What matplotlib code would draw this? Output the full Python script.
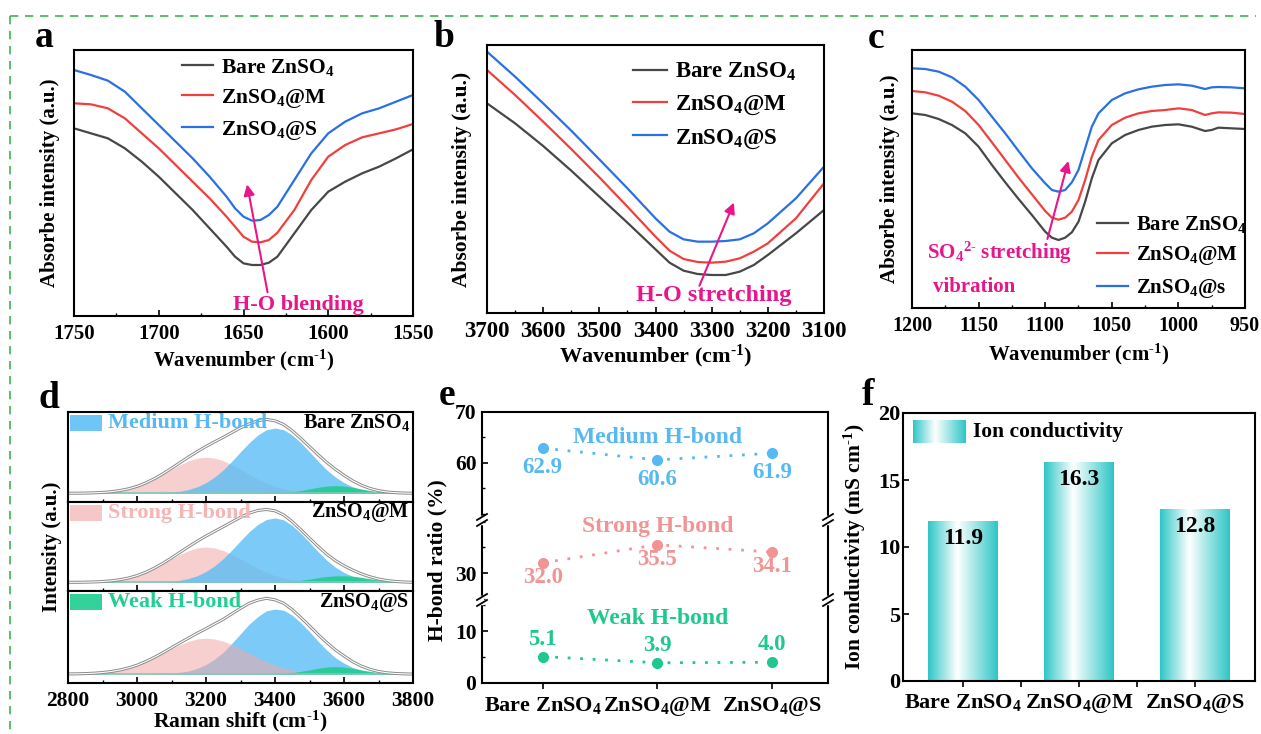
import numpy as np
import matplotlib
matplotlib.use("Agg")
import matplotlib.pyplot as plt
from matplotlib.colors import LinearSegmentedColormap
from matplotlib.ticker import MultipleLocator, FixedLocator
from matplotlib.lines import Line2D
from matplotlib.patches import Rectangle

plt.rcParams['font.family'] = 'Liberation Serif'
plt.rcParams['font.weight'] = 'bold'
plt.rcParams['axes.labelweight'] = 'bold'
plt.rcParams['mathtext.fontset'] = 'custom'
plt.rcParams['mathtext.rm'] = 'Liberation Serif:bold'
plt.rcParams['mathtext.bf'] = 'Liberation Serif:bold'
plt.rcParams['mathtext.it'] = 'Liberation Serif:bold'
plt.rcParams['mathtext.default'] = 'bf'
plt.rcParams['axes.linewidth'] = 1.5

HY = '\u2010'  # short hyphen for superscripts

# ---------------- data ----------------
samples = ['Bare ZnSO$_4$', 'ZnSO$_4$@M', 'ZnSO$_4$@S']
samples_c = ['Bare ZnSO$_4$', 'ZnSO$_4$@M', 'ZnSO$_4$@s']

# (a) FTIR H-O bending region
a_wn = [1750, 1740, 1730, 1720, 1710, 1700, 1690, 1680, 1670, 1660, 1655, 1650,
        1645, 1640, 1635, 1630, 1620, 1610, 1600, 1590, 1580, 1570, 1560, 1550]
a_bare = [56.3, 54.8, 53.3, 50.3, 46.3, 41.8, 36.8, 31.8, 26.3, 20.8, 17.8, 15.8,
          15.3, 15.3, 16.0, 17.8, 24.8, 31.8, 37.3, 40.3, 42.8, 44.8, 47.3, 50.0]
a_m = [63.8, 63.5, 62.3, 59.3, 54.8, 50.3, 45.3, 40.3, 35.3, 29.8, 26.8, 23.8,
       22.3, 22.1, 22.8, 25.0, 31.8, 40.8, 47.8, 51.3, 53.6, 54.8, 56.0, 57.6]
a_s = [73.8, 72.3, 70.6, 67.3, 62.3, 57.3, 52.3, 47.3, 41.8, 35.8, 32.3, 29.8,
       28.6, 28.8, 30.3, 32.8, 40.8, 48.8, 54.8, 58.3, 60.8, 62.3, 64.3, 66.3]

# (b) FTIR H-O stretching region
b_wn = [3700, 3650, 3600, 3550, 3500, 3450, 3400, 3375, 3350, 3325, 3300, 3275, 3250, 3225, 3200, 3150, 3100]
b_bare = [62.9, 56.9, 50.1, 42.7, 34.9, 27.1, 19.1, 15.1, 12.7, 11.7, 11.4, 11.4, 12.4, 14.4, 17.4, 23.9, 30.9]
b_m = [72.9, 65.4, 57.4, 49.2, 40.7, 31.9, 22.9, 18.7, 16.2, 15.3, 15.1, 15.4, 16.4, 18.4, 20.9, 28.4, 38.9]
b_s = [78.4, 70.9, 62.9, 54.7, 46.1, 37.4, 28.4, 24.4, 22.1, 21.4, 21.4, 21.6, 22.1, 23.9, 26.9, 34.4, 43.9]

# (c) FTIR SO4 stretching region
c_wn = [1200, 1190, 1180, 1170, 1160, 1150, 1140, 1130, 1120, 1110, 1100, 1095, 1090, 1085, 1080, 1075,
        1070, 1065, 1060, 1050, 1040, 1030, 1020, 1010, 1000, 990, 980, 975, 970, 960, 950]
c_bare = [58.4, 57.9, 56.7, 54.9, 52.4, 48.4, 42.9, 37.7, 32.7, 27.9, 22.9, 21.1, 20.4, 21.1, 22.7, 25.9,
          31.9, 38.9, 44.4, 49.4, 51.9, 53.4, 54.4, 54.9, 55.1, 54.4, 53.1, 53.4, 54.1, 53.9, 53.7]
c_m = [65.1, 64.7, 63.7, 61.9, 59.1, 54.9, 49.7, 44.4, 39.1, 34.1, 29.1, 27.1, 26.5, 27.1, 28.9, 32.4,
       38.4, 45.4, 50.4, 54.9, 57.1, 58.4, 59.1, 59.4, 59.9, 59.4, 57.9, 58.4, 58.7, 58.6, 58.2]
c_s = [71.9, 71.7, 70.9, 69.2, 66.4, 62.4, 57.4, 52.4, 47.1, 41.9, 37.4, 35.4, 34.9, 35.4, 37.7, 41.4,
       47.9, 54.4, 58.4, 62.4, 64.4, 65.6, 66.4, 66.9, 67.1, 66.7, 65.7, 66.2, 66.3, 66.2, 65.9]

# (d) Raman fitted components, 2800-3800 cm-1 every 25 cm-1
d_shift = [2800, 2825, 2850, 2875, 2900, 2925, 2950, 2975, 3000, 3025, 3050, 3075, 3100, 3125,
           3150, 3175, 3200, 3225, 3250, 3275, 3300, 3325, 3350, 3375, 3400, 3425, 3450, 3475,
           3500, 3525, 3550, 3575, 3600, 3625, 3650, 3675, 3700, 3725, 3750, 3775, 3800]
d_medium = [
    [0, 0, 0, 0, 0, 0, 0, 0, 0, 0.3, 0.8, 1.6, 3.3, 6.3, 11.5, 19.6, 32, 48.6, 70, 96, 124, 151, 174, 190,
     195, 190, 174, 151, 124, 96, 70, 48.6, 32, 19.6, 11.5, 6.3, 3.3, 1.6, 0.8, 0.3, 0],
    [0, 0, 0, 0, 0, 0, 0, 0, 0, 0.3, 0.8, 1.6, 3.3, 6.5, 12, 20.5, 33, 50, 72, 98, 126, 153, 175, 190,
     195, 189, 172, 148, 121, 93, 67, 46, 30, 18.5, 10.5, 5.8, 3.0, 1.5, 0.7, 0.3, 0],
    [0, 0, 0, 0, 0, 0, 0, 0, 0, 0.3, 0.8, 1.5, 3.0, 5.5, 9.5, 17, 28, 44, 64, 90, 118, 146, 168, 185,
     190, 187, 172, 150, 124, 96, 70, 48, 32, 19.5, 11.2, 6.1, 3.2, 1.6, 0.8, 0.3, 0],
]
d_strong = [
    [0.2, 0.3, 0.7, 1.4, 2.6, 4.7, 8.2, 13.3, 20.7, 30.5, 42.7, 56.7, 71.5, 85.6, 97.4, 105.3, 108,
     105.3, 97.4, 85.6, 71.5, 56.7, 42.7, 30.5, 20.7, 13.3, 8.2, 4.7, 2.6, 1.4, 0.7, 0.3, 0.2,
     0, 0, 0, 0, 0, 0, 0, 0],
    [0.2, 0.3, 0.7, 1.4, 2.6, 4.7, 8.1, 13.2, 20.5, 30.2, 42.3, 56.1, 70.8, 84.7, 96.4, 104.3, 107,
     104.3, 96.4, 84.7, 70.8, 56.1, 42.3, 30.2, 20.5, 13.2, 8.1, 4.7, 2.6, 1.4, 0.7, 0.3, 0.2,
     0, 0, 0, 0, 0, 0, 0, 0],
    [0.4, 0.8, 1.5, 2.7, 4.6, 7.6, 12.0, 18.1, 26.1, 36.3, 48.1, 61.0, 74.2, 86.4, 96.3, 102.8, 105,
     102.8, 96.3, 86.4, 74.2, 61.0, 48.1, 36.3, 26.1, 18.1, 12.0, 7.6, 4.6, 2.7, 1.5, 0.8, 0.4,
     0, 0, 0, 0, 0, 0, 0, 0],
]
d_weak = [
    [0, 0, 0, 0, 0, 0, 0, 0, 0, 0, 0, 0, 0, 0, 0, 0, 0, 0, 0, 0, 0, 0, 0.1, 0.4,
     1.0, 2.3, 4.7, 8.3, 12.9, 17.8, 21.6, 23, 21.6, 17.8, 12.9, 8.3, 4.7, 2.3, 1.0, 0.4, 0.1],
    [0, 0, 0, 0, 0, 0, 0, 0, 0, 0, 0, 0, 0, 0, 0, 0, 0, 0, 0, 0, 0, 0, 0.1, 0.3,
     0.8, 1.8, 3.6, 6.4, 10.0, 14.2, 17.6, 19.6, 20, 18.8, 15.5, 11.2, 7.2, 4.1, 2.0, 0.9, 0.3],
    [0, 0, 0, 0, 0, 0, 0, 0, 0, 0, 0, 0, 0, 0, 0, 0, 0, 0, 0, 0, 0, 0, 0.1, 0.4,
     1.0, 2.2, 4.5, 7.9, 12.3, 17.0, 20.7, 22, 20.7, 17.0, 12.3, 7.9, 4.5, 2.2, 1.0, 0.4, 0.1],
]

# (e) H-bond ratios (%)
ratio_medium = [62.9, 60.6, 61.9]
ratio_strong = [32.0, 35.5, 34.1]
ratio_weak = [5.1, 3.9, 4.0]

# (f) ion conductivity (mS/cm)
conductivity = [11.9, 16.3, 12.8]

# ---------------- style ----------------
line_colors = ['#474747', '#F0403E', '#2870E4']
magenta = '#E8158B'
c_med, c_str, c_weak = '#56B9F2', '#F29494', '#1DC98C'
teal = '#2EC6C6'
wn_label = 'Wavenumber (cm$^{' + HY + '1}$)'

W, H = 1261, 734
fig = plt.figure(figsize=(W / 100, H / 100), dpi=100)


def px_axes(l, r, t, b):
    return fig.add_axes([l / W, 1 - b / H, (r - l) / W, (b - t) / H])


def spectra(ax, x, ys, labels, xlim, ylim, major, minor, tsize):
    for y, col, lab in zip(ys, line_colors, labels):
        ax.plot(x, y, color=col, lw=1.6, label=lab)
    ax.set_xlim(xlim)
    ax.set_ylim(ylim)
    ax.set_yticks([])
    ax.xaxis.set_major_locator(MultipleLocator(major))
    ax.xaxis.set_minor_locator(MultipleLocator(minor))
    ax.tick_params(axis='x', which='major', direction='in', length=4, width=1.2, labelsize=tsize, pad=6)
    ax.tick_params(axis='x', which='minor', direction='in', length=2.5, width=1.0)


# ---- (a)
ax = px_axes(74, 413, 50, 316)
spectra(ax, a_wn, [a_bare, a_m, a_s], samples, (1750, 1550), (0, 79.8), 50, 25, 15)
ax.legend(loc='upper left', bbox_to_anchor=(0.319, 0.975), frameon=False, fontsize=15.5,
          handlelength=1.45, handletextpad=0.35, labelspacing=0.42, borderpad=0, borderaxespad=0)
ax.annotate('', xy=(1648.2, 40.3), xytext=(1635.5, 6.3),
            arrowprops=dict(arrowstyle='-|>', color=magenta, lw=1.5, mutation_scale=16))
ax.text(1617.8, 3.3, 'H-O blending', color=magenta, fontsize=16, ha='center', va='center')
ax.set_xlabel(wn_label, fontsize=15)
ax.set_ylabel('Absorbe intensity (a.u.)', fontsize=15)
ax.xaxis.set_label_coords(0.5, -0.12)
ax.yaxis.set_label_coords(-0.04, 0.5)

# ---- (b)
ax = px_axes(487, 824, 45, 313)
spectra(ax, b_wn, [b_bare, b_m, b_s], samples, (3700, 3100), (0, 80.4), 100, 50, 16.5)
ax.legend(loc='upper left', bbox_to_anchor=(0.433, 0.94), frameon=False, fontsize=16.5,
          handlelength=1.5, handletextpad=0.35, labelspacing=0.45, borderpad=0, borderaxespad=0)
ax.annotate('', xy=(3258.5, 33.9), xytext=(3323.7, 7.4),
            arrowprops=dict(arrowstyle='-|>', color=magenta, lw=1.5, mutation_scale=16))
ax.text(3296.8, 5.4, 'H-O stretching', color=magenta, fontsize=17.5, ha='center', va='center')
ax.set_xlabel(wn_label, fontsize=16)
ax.set_ylabel('Absorbe intensity (a.u.)', fontsize=15.5)
ax.xaxis.set_label_coords(0.5, -0.11)
ax.yaxis.set_label_coords(-0.045, 0.5)

# ---- (c)
ax = px_axes(912, 1245, 50, 308)
spectra(ax, c_wn, [c_bare, c_m, c_s], samples_c, (1200, 950), (0, 77.4), 50, 25, 14.5)
ax.legend(loc='upper left', bbox_to_anchor=(0.556, 0.364), frameon=False, fontsize=15,
          handlelength=1.5, handletextpad=0.35, labelspacing=0.45, borderpad=0, borderaxespad=0)
ax.annotate('', xy=(1082.1, 44.9), xytext=(1098.9, 19.9),
            arrowprops=dict(arrowstyle='-|>', color=magenta, lw=1.5, mutation_scale=16))
ax.text(1189, 16.5, 'SO$_4$$^{2' + HY + '}$ stretching', color=magenta, fontsize=15, ha='left', va='center')
ax.text(1184.5, 6.4, 'vibration', color=magenta, fontsize=15, ha='left', va='center')
ax.set_xlabel(wn_label, fontsize=15)
ax.set_ylabel('Absorbe intensity (a.u.)', fontsize=15)
ax.xaxis.set_label_coords(0.5, -0.13)
ax.yaxis.set_label_coords(-0.036, 0.5)

# ---- (d) three stacked Raman panels
d_bounds = [412, 502, 591, 683]
d_tags = [('Medium H-bond', '#6EC6F7', c_med), ('Strong H-bond', '#F7C6C6', '#F6B4B4'),
          ('Weak H-bond', '#33D29A', '#21CF92')]
for i in range(3):
    ax = px_axes(68, 413, d_bounds[i], d_bounds[i + 1])
    med = np.array(d_medium[i], dtype=float)
    stg = np.array(d_strong[i], dtype=float)
    wk = np.array(d_weak[i], dtype=float)
    total = med + stg + wk
    if i < 2:
        ax.fill_between(d_shift, 0, stg, color='#F4A9A9', alpha=0.55, lw=0)
        ax.fill_between(d_shift, 0, med, color='#5BBDF5', alpha=0.8, lw=0)
    else:
        ax.fill_between(d_shift, 0, med, color='#5BBDF5', alpha=0.8, lw=0)
        ax.fill_between(d_shift, 0, stg, color='#F4A9A9', alpha=0.55, lw=0)
    ax.fill_between(d_shift, 0, wk, color='#20CC8E', alpha=0.9, lw=0)
    ax.plot(d_shift, [0] * len(d_shift), color='#7FC8B8', lw=1.2)
    ax.plot(d_shift, total, color='#8A8A8A', lw=2.2)
    ax.plot(d_shift, total, color='white', lw=0.8)
    ax.set_xlim(2800, 3800)
    ax.set_ylim(-26, 243)
    ax.set_yticks([])
    ax.xaxis.set_major_locator(MultipleLocator(200))
    ax.xaxis.set_minor_locator(MultipleLocator(100))
    ax.tick_params(axis='x', which='major', direction='in', length=4, width=1.2, labelsize=15.5, pad=6)
    ax.tick_params(axis='x', which='minor', direction='in', length=2.5, width=1.0)
    if i < 2:
        ax.tick_params(axis='x', labelbottom=False)
    name, pcol, tcol = d_tags[i]
    ax.add_patch(Rectangle((0.006, 0.79), 0.092, 0.18, transform=ax.transAxes, color=pcol, lw=0))
    ax.text(0.116, 0.88, name, transform=ax.transAxes, color=tcol, fontsize=16, ha='left', va='center')
    ax.text(0.99, 0.88, samples[i], transform=ax.transAxes, color='black', fontsize=14.5,
            ha='right', va='center')
    if i == 1:
        ax.set_ylabel('Intensity (a.u.)', fontsize=15)
        ax.yaxis.set_label_coords(-0.017, 0.5)
    if i == 2:
        ax.set_xlabel('Raman shift (cm$^{' + HY + '1}$)', fontsize=15.5)
        ax.xaxis.set_label_coords(0.5, -0.28)

# ---- (e) broken-axis H-bond ratio
e_segments = [(412, 520, (48.8, 70)), (520, 600, (24.8, 40.3)), (600, 683, (0, 16))]
e_series = [(ratio_medium, c_med, 'Medium H-bond', 64.9, -14),
            (ratio_strong, c_str, 'Strong H-bond', 39.1, -10.5),
            (ratio_weak, c_weak, 'Weak H-bond', 12.5, 12.5)]
e_major = [[60, 70], [30], [0, 10]]
xpos = np.arange(len(samples))
for k, (t, b, lim) in enumerate(e_segments):
    ax = px_axes(482, 828, t, b)
    ax.set_facecolor('none')
    vals, col, title, ty, off = e_series[k]
    ax.plot(xpos, vals, linestyle=(0, (1, 3.5)), color=col, lw=2, marker='o', ms=7)
    for xv, v in zip(xpos, vals):
        ax.annotate(f'{v:.1f}', (xv, v), xytext=(0, off), textcoords='offset points',
                    ha='center', va='center', color=col, fontsize=16.5)
    ax.text(1.0, ty, title, color=col, fontsize=17, ha='center', va='center')
    ax.set_xlim(-0.53, 2.49)
    ax.set_ylim(lim)
    ax.yaxis.set_major_locator(FixedLocator(e_major[k]))
    ax.yaxis.set_minor_locator(MultipleLocator(5))
    ax.tick_params(axis='y', which='major', direction='in', length=4, width=1.2, labelsize=15.5, pad=4)
    ax.tick_params(axis='y', which='minor', direction='in', length=2.5, width=1.0)
    if k > 0:
        ax.spines['top'].set_visible(False)
    if k < 2:
        ax.spines['bottom'].set_visible(False)
        ax.set_xticks([])
    else:
        ax.set_xticks(xpos)
        ax.set_xticklabels(samples)
        ax.tick_params(axis='x', direction='out', length=4, width=1.2, labelsize=16, pad=5)
    if k == 1:
        ax.set_ylabel('H-bond ratio (%)', fontsize=15.5)
        ax.yaxis.set_label_coords(-0.1, 0.5)

# break marks on the axis of (e)
for yb in (520, 600):
    for xb in (482, 828):
        fig.add_artist(Line2D([xb / W, xb / W], [1 - (yb - 3) / H, 1 - (yb + 3) / H],
                              transform=fig.transFigure, color='white', lw=2.5))
        for dy in (-3, 3):
            fig.add_artist(Line2D([(xb - 5) / W, (xb + 5) / W],
                                  [1 - (yb + dy + 3) / H, 1 - (yb + dy - 3) / H],
                                  transform=fig.transFigure, color='black', lw=1.3))

# ---- (f) ion conductivity bars with horizontal gradient
ax = px_axes(903, 1255, 413, 681)
grad_cmap = LinearSegmentedColormap.from_list('tealwhite', [(0, teal), (0.42, 'white'), (1, teal)])
grad = np.linspace(0, 1, 256).reshape(1, -1)
bars = ax.bar(xpos, conductivity, width=0.6, color='none', edgecolor='none')
for patch, v in zip(bars.patches, conductivity):
    x0 = patch.get_x()
    ax.imshow(grad, extent=[x0, x0 + patch.get_width(), 0, patch.get_height()],
              aspect='auto', cmap=grad_cmap, zorder=2)
    ax.annotate(f'{v:.1f}', (x0 + patch.get_width() / 2, v), xytext=(0, -12), textcoords='offset points',
                ha='center', va='center', fontsize=17, color='black', zorder=3)
ax.set_xlim(-0.52, 2.52)
ax.set_ylim(0, 20)
ax.set_xticks(xpos)
ax.set_xticklabels(samples)
ax.xaxis.set_minor_locator(FixedLocator([0.5, 1.5]))
ax.yaxis.set_major_locator(MultipleLocator(5))
ax.tick_params(axis='x', which='both', direction='out', length=4, width=1.2, labelsize=16, pad=4)
ax.tick_params(axis='y', direction='in', length=4, width=1.2, labelsize=16, pad=2)
ax.set_ylabel('Ion conductivity (mS cm$^{' + HY + '1}$)', fontsize=15.5)
ax.yaxis.set_label_coords(-0.1, 0.5)
leg_ax = ax.inset_axes([0.028, 0.888, 0.148, 0.086])
leg_ax.imshow(grad, aspect='auto', cmap=grad_cmap)
leg_ax.axis('off')
ax.text(0.199, 0.93, 'Ion conductivity', transform=ax.transAxes, fontsize=15.5, ha='left', va='center')

# ---- panel letters
for letter, x, yb in [('a', 35, 47), ('b', 433, 47), ('c', 868, 48), ('d', 38, 408), ('e', 439, 405),
                      ('f', 862, 405)]:
    fig.text(x / W, 1 - yb / H, letter, fontsize=27, fontweight='bold', ha='left', va='baseline')

# ---- green dashed frame
fig.add_artist(Line2D([9.5 / W, 1256 / W], [1 - 16 / H, 1 - 16 / H], transform=fig.transFigure,
                      color='#3CB54A', lw=1.2, linestyle=(0, (5, 4))))
fig.add_artist(Line2D([9.5 / W, 9.5 / W], [1 - 16 / H, 0], transform=fig.transFigure,
                      color='#3CB54A', lw=1.2, linestyle=(0, (5, 4))))

fig.savefig('out.png', dpi=100)
